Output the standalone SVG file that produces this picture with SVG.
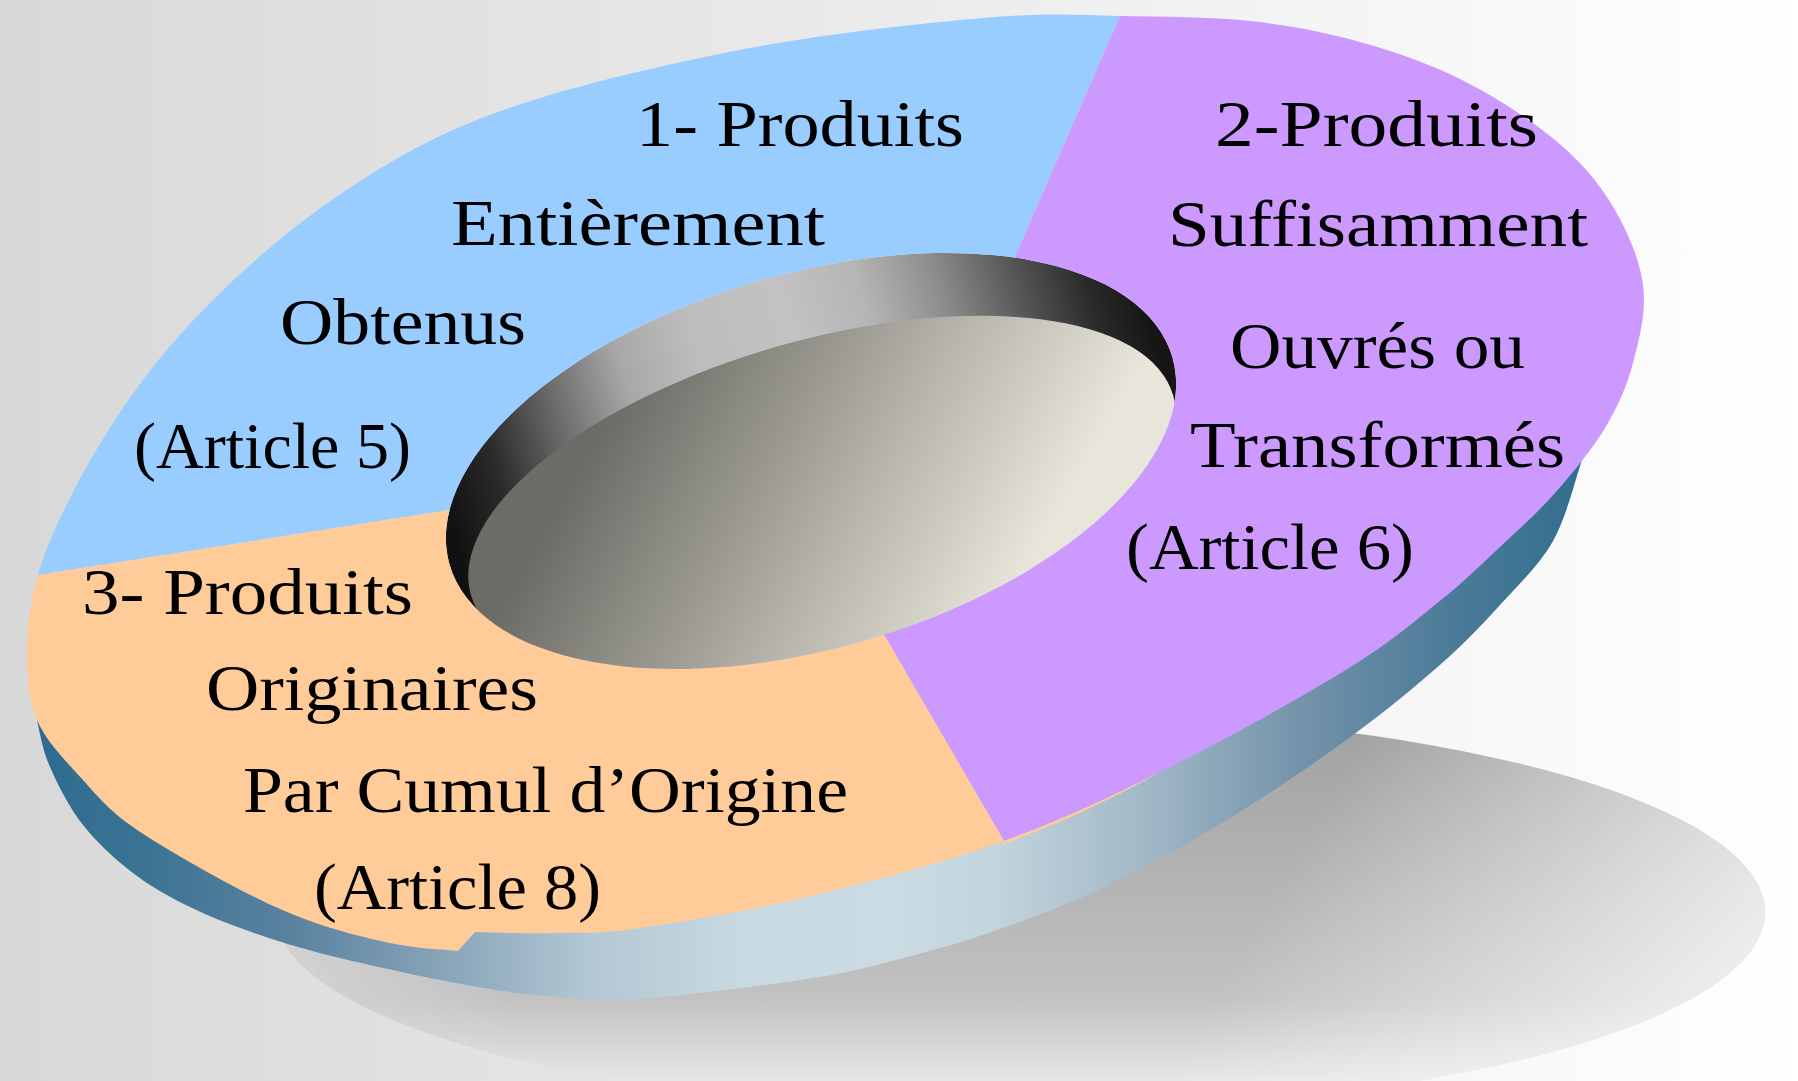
<svg xmlns="http://www.w3.org/2000/svg" width="1798" height="1081" viewBox="0 0 1798 1081">
<defs>
<style>
.lbl { font-family: "Liberation Serif", "Times New Roman", serif; font-size: 66px; fill: #000000; }
.blue { fill: #99ccff; }
.purple { fill: #cc99ff; }
.orange { fill: #ffcc99; }
</style>
<linearGradient id="bgGrad" x1="0" y1="0" x2="1" y2="0">
<stop offset="0" stop-color="#d8d8d8"/>
<stop offset="0.5" stop-color="#ebebeb"/>
<stop offset="1" stop-color="#ffffff"/>
</linearGradient>
<linearGradient id="shadowGrad" gradientUnits="userSpaceOnUse" x1="0" y1="712" x2="0" y2="1112">
<stop offset="0" stop-color="#a0a0a0"/>
<stop offset="0.72" stop-color="#c2c2c2"/>
<stop offset="0.92" stop-color="#e6e6e6"/>
<stop offset="1" stop-color="#eeeeee"/>
</linearGradient>
<linearGradient id="shadowLight" gradientUnits="userSpaceOnUse" x1="1350" y1="760" x2="1767" y2="1000">
<stop offset="0" stop-color="#fafafa" stop-opacity="0"/>
<stop offset="1" stop-color="#fafafa" stop-opacity="0.85"/>
</linearGradient>
<linearGradient id="shadowLightLeft" gradientUnits="userSpaceOnUse" x1="520" y1="0" x2="275" y2="0">
<stop offset="0" stop-color="#e0e0e0" stop-opacity="0"/>
<stop offset="1" stop-color="#dcdcdc" stop-opacity="0.7"/>
</linearGradient>
<linearGradient id="sideGrad" gradientUnits="userSpaceOnUse" x1="30" y1="0" x2="1600" y2="0">
<stop offset="0" stop-color="#2d6b8e"/>
<stop offset="0.072" stop-color="#3b7394"/>
<stop offset="0.167" stop-color="#5a829f"/>
<stop offset="0.263" stop-color="#88a4b9"/>
<stop offset="0.359" stop-color="#b3c8d4"/>
<stop offset="0.455" stop-color="#c8d9e1"/>
<stop offset="0.551" stop-color="#cadbe3"/>
<stop offset="0.615" stop-color="#c2d4dd"/>
<stop offset="0.71" stop-color="#a2b8c7"/>
<stop offset="0.806" stop-color="#7594ab"/>
<stop offset="0.9" stop-color="#4d7c99"/>
<stop offset="1" stop-color="#2f6c8e"/>
</linearGradient>
<linearGradient id="wallGrad" gradientUnits="userSpaceOnUse" x1="447" y1="0" x2="1176" y2="0">
<stop offset="0" stop-color="#111111"/>
<stop offset="0.08" stop-color="#2a2a2a"/>
<stop offset="0.18" stop-color="#6a6a6a"/>
<stop offset="0.285" stop-color="#a8a8a8"/>
<stop offset="0.39" stop-color="#bdbdbd"/>
<stop offset="0.525" stop-color="#c2c2c2"/>
<stop offset="0.63" stop-color="#b5b5b5"/>
<stop offset="0.73" stop-color="#8e8e8e"/>
<stop offset="0.83" stop-color="#5a5a5a"/>
<stop offset="0.93" stop-color="#2a2a2a"/>
<stop offset="1" stop-color="#151515"/>
</linearGradient>
<linearGradient id="floorGrad" gradientUnits="userSpaceOnUse" x1="600" y1="400" x2="910" y2="710">
<stop offset="0" stop-color="#6c6c66"/>
<stop offset="0.5" stop-color="#aaa8a0"/>
<stop offset="1" stop-color="#e8e6da"/>
</linearGradient>
<mask id="holeMask" maskUnits="userSpaceOnUse" x="0" y="0" width="1798" height="1081">
<rect x="0" y="0" width="1798" height="1081" fill="#ffffff"/>
<ellipse cx="811" cy="461" rx="376" ry="187.6" transform="rotate(-16 811 461)" fill="#000000"/>
</mask>
</defs>

<rect id="background" x="0" y="0" width="1798" height="1081" fill="url(#bgGrad)"/>

<g id="shadow">
<ellipse cx="1020" cy="912" rx="745" ry="200" fill="url(#shadowGrad)"/>
<ellipse cx="1020" cy="912" rx="745" ry="200" fill="url(#shadowLight)"/>
<ellipse cx="1020" cy="912" rx="745" ry="200" fill="url(#shadowLightLeft)"/>
</g>

<g id="ring-side">
<path fill="url(#sideGrad)" d="M37,720 C40,732.83 42.33,749.5 50,767 C57.67,784.5 69.17,807.33 83,825 C96.83,842.67 115.17,859.33 133,873 C150.83,886.67 168.83,896.67 190,907 C211.17,917.33 234.33,926.33 260,935 C285.67,943.67 308.67,950.5 344,959 C379.33,967.5 436,979.67 472,986 C508,992.33 532,994.83 560,997 C588,999.17 598.83,1001 640,999 C681.17,996 763.67,985.67 807,979 C850.33,972.33 867.83,967.33 900,959 C932.17,950.67 965.5,941.17 1000,929 C1034.5,916.83 1068.67,904.5 1107,886 C1145.33,867.5 1189.67,842.67 1230,818 C1270.33,793.33 1313.83,763.67 1349,738 C1384.17,712.33 1415.83,686.17 1441,664 C1466.17,641.83 1481.33,625.5 1500,605 C1518.67,584.5 1539.33,565.17 1553,541 C1566.67,516.83 1575,480.17 1582,460 L1450,450 L600,800 L60,700 Z"/>
</g>

<g id="hole">
<ellipse cx="811" cy="461" rx="376" ry="187.6" transform="rotate(-16 811 461)" fill="url(#wallGrad)"/>
<ellipse cx="822" cy="495" rx="365" ry="155" transform="rotate(-15.8 822 495)" fill="url(#floorGrad)"/>
</g>

<g id="node-1">
<path class="blue" mask="url(#holeMask)" d="M38,575 C45,550.5 56.17,525.83 69,500 C81.83,474.17 97.83,446 115,420 C132.17,394 149.5,369.83 172,344 C194.5,318.17 222.17,289.83 250,265 C277.83,240.17 307.33,216.5 339,195 C370.67,173.5 404.83,152.67 440,136 C475.17,119.33 506.67,108 550,95 C593.33,82 652,68.17 700,58 C748,47.83 786.33,41 838,34 C889.67,27 963,19 1010,16 C1057,13 1080,15.17 1120,16 L1000,291 L811,461 L500,502 Z"/>
<text class="lbl" x="636" y="146" textLength="328" lengthAdjust="spacingAndGlyphs">1- Produits</text>
<text class="lbl" x="451" y="245" textLength="374" lengthAdjust="spacingAndGlyphs">Entièrement</text>
<text class="lbl" x="280" y="344" textLength="246" lengthAdjust="spacingAndGlyphs">Obtenus</text>
<text class="lbl" x="134" y="468" textLength="277" lengthAdjust="spacingAndGlyphs">(Article 5)</text>
</g>

<g id="node-2">
<path class="purple" mask="url(#holeMask)" d="M1120,16 C1160,16.83 1210,16.67 1250,21 C1290,25.33 1324.67,32.17 1360,42 C1395.33,51.83 1429.5,63.67 1462,80 C1494.5,96.33 1530,119.17 1555,140 C1580,160.83 1597.33,180.83 1612,205 C1626.67,229.17 1639.5,258.67 1643,285 C1646.5,311.33 1639.33,339.17 1633,363 C1626.67,386.83 1618,406.33 1605,428 C1592,449.67 1572.5,473.17 1555,493 C1537.5,512.83 1519,529.17 1500,547 C1481,564.83 1466.17,579.83 1441,600 C1415.83,620.17 1393.17,640.67 1349,668 C1304.83,695.33 1233.5,735.17 1176,764 C1118.5,792.83 1065.5,818.83 1004,841 L858,590 L811,461 L1000,291 Z"/>
<text class="lbl" x="1215" y="146" textLength="323" lengthAdjust="spacingAndGlyphs">2-Produits</text>
<text class="lbl" x="1168" y="246" textLength="420" lengthAdjust="spacingAndGlyphs">Suffisamment</text>
<text class="lbl" x="1230" y="368" textLength="295" lengthAdjust="spacingAndGlyphs">Ouvrés ou</text>
<text class="lbl" x="1190" y="467" textLength="375" lengthAdjust="spacingAndGlyphs">Transformés</text>
<text class="lbl" x="1126" y="569" textLength="288" lengthAdjust="spacingAndGlyphs">(Article 6)</text>
</g>

<g id="node-3">
<path class="orange" mask="url(#holeMask)" d="M38,575 L500,502 L811,461 L858,590 L1004,841 C942.5,863.17 867.67,882.5 807,897 C746.33,911.5 681.17,922 640,928 C598.83,934 587.5,932.33 560,933 C532.5,933.67 501.67,932.83 475,932 L458,951 C434.67,949 414.67,948 390,943 C365.33,938 336.17,930.5 310,921 C283.83,911.5 262.5,901.67 233,886 C203.5,870.33 158,844.67 133,827 C108,809.33 99,797.83 83,780 C67,762.17 46.33,742.17 37,720 C27.67,697.83 26.83,671.17 27,647 C27.17,622.83 31,599.5 38,575 Z"/>
<path class="orange" d="M1004,841 C1065.5,818.83 1118.5,792.83 1160,772 C1118.5,795.5 1065.5,821.5 1001,845 Z"/>
<text class="lbl" x="82" y="614" textLength="331" lengthAdjust="spacingAndGlyphs">3- Produits</text>
<text class="lbl" x="206" y="710" textLength="332" lengthAdjust="spacingAndGlyphs">Originaires</text>
<text class="lbl" x="243" y="812" textLength="605" lengthAdjust="spacingAndGlyphs">Par Cumul d’Origine</text>
<text class="lbl" x="314" y="909" textLength="287" lengthAdjust="spacingAndGlyphs">(Article 8)</text>
</g>

<g id="connectors"></g>
</svg>
